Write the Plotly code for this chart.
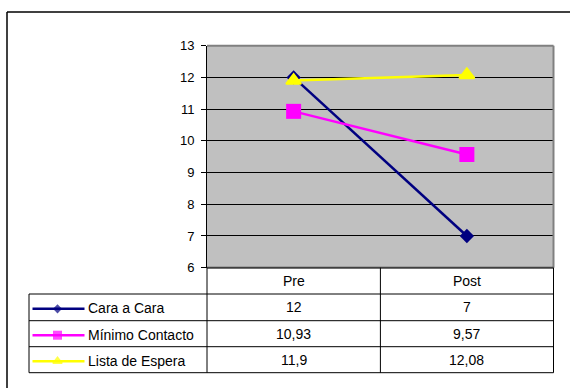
import plotly.graph_objects as go

# ---------------- data ----------------
categories = ["Pre", "Post"]
series_names = ["Cara a Cara", "Mínimo Contacto", "Lista de Espera"]
cara_a_cara = [12, 7]
minimo_contacto = [10.93, 9.57]
lista_de_espera = [11.9, 12.08]
y_ticks = [6, 7, 8, 9, 10, 11, 12, 13]

series_values = [cara_a_cara, minimo_contacto, lista_de_espera]

# ---------------- style ----------------
colors = ["#000080", "#FF00FF", "#FFFF00"]
symbols = ["diamond", "square", "triangle-up"]
marker_sizes = [11, 15, 13]
marker_lines = [0, 0, 2]
legend_marker_sizes = [7, 9, 8]
legend_marker_lines = [0, 0, 1.5]
FONT = "Arial, Liberation Sans, sans-serif"

W, H = 570, 388
PL, PR, PT, PB = 207, 553.5, 45.7, 267.7   # plot area in pixels
TL = 29                                      # table left edge
ROW_LINES = [294, 320.7, 346.7, 372.7]
COL_MID = 380.4


def px(x):
    return x / W


def py(y):
    return 1 - y / H


def fmt(v):
    return f"{v:g}".replace(".", ",")


fig = go.Figure()

for name, vals, c, s, ms, ml in zip(series_names, series_values, colors, symbols,
                                     marker_sizes, marker_lines):
    fig.add_trace(go.Scatter(
        x=categories, y=vals, name=name, mode="lines+markers",
        line=dict(color=c, width=2.5),
        marker=dict(symbol=s, size=ms, color=c, line=dict(width=ml, color=c)),
        xaxis="x", yaxis="y", showlegend=False, cliponaxis=False,
    ))

# legend keys inside the table (overlay pixel axes)
row_centers = [(ROW_LINES[i] + ROW_LINES[i + 1]) / 2 for i in range(3)]
for name, c, s, ms, ml, yc in zip(series_names, colors, symbols, legend_marker_sizes,
                                  legend_marker_lines, row_centers):
    fig.add_trace(go.Scatter(
        x=[32.5, 57.5, 84.5], y=[yc + 1.5] * 3, mode="lines+markers",
        line=dict(color=c, width=2.5),
        marker=dict(symbol=s, size=[0, ms, 0], color=c, line=dict(width=ml, color=c)),
        xaxis="x2", yaxis="y2", showlegend=False, hoverinfo="skip",
    ))

shapes = []


def line(x0, y0, x1, y1, color="#000000", width=1):
    shapes.append(dict(type="line", xref="paper", yref="paper",
                       x0=px(x0), y0=py(y0), x1=px(x1), y1=py(y1),
                       line=dict(color=color, width=width), layer="above"))


# gray plot background
shapes.append(dict(type="rect", xref="x domain", yref="y domain", x0=0, x1=1, y0=0, y1=1,
                   fillcolor="#C0C0C0", line=dict(width=0), layer="below"))
# plot border
line(PL, PT, PR, PT, "#808080", 2)
line(PR, PT, PR, PB, "#808080", 2)
line(PL, PB, PR, PB, "#404040", 2)

# table
for yl in ROW_LINES:
    line(TL, yl, PR, yl)
for xl in [PL, COL_MID, PR]:
    line(xl, PB, xl, ROW_LINES[-1])
line(TL, ROW_LINES[0], TL, ROW_LINES[-1])

# outer frame
line(7, 12, W, 12, "#000000", 1.5)
line(7, 12, 7, H, "#000000", 1.5)

annotations = []
col_centers = [(PL + COL_MID) / 2, (COL_MID + PR) / 2]
for cat, xc in zip(categories, col_centers):
    annotations.append(dict(text=cat, x=px(xc), y=py((PB + ROW_LINES[0]) / 2), xref="paper",
                            yref="paper", showarrow=False, xanchor="center", yanchor="middle",
                            font=dict(family=FONT, size=14, color="#000")))
for vals, yc, name in zip(series_values, row_centers, series_names):
    for v, xc in zip(vals, col_centers):
        annotations.append(dict(text=fmt(v), x=px(xc), y=py(yc), xref="paper", yref="paper",
                                showarrow=False, xanchor="center", yanchor="middle",
                                font=dict(family=FONT, size=14, color="#000")))
    annotations.append(dict(text=name, x=px(86), y=py(yc + 1), xref="paper", yref="paper",
                            showarrow=False, xanchor="left", yanchor="middle",
                            font=dict(family=FONT, size=14, color="#000")))

fig.update_layout(
    width=W, height=H, margin=dict(l=0, r=0, t=0, b=0, pad=0),
    paper_bgcolor="white", plot_bgcolor="rgba(0,0,0,0)",
    xaxis=dict(domain=[px(PL), px(PR)], type="category", categoryorder="array",
               categoryarray=categories, range=[-0.5, 1.5], showticklabels=False,
               showgrid=False, zeroline=False, ticks="", anchor="y", automargin=False),
    yaxis=dict(domain=[py(PB), py(PT)], range=[6, 13], tickvals=y_ticks,
               ticktext=[str(t) for t in y_ticks], showgrid=True, gridcolor="#000000",
               gridwidth=1, zeroline=False, showline=True, linecolor="#000000", linewidth=1,
               ticks="outside", ticklen=5, tickcolor="#000000", ticklabelstandoff=4,
               tickfont=dict(family=FONT, size=13, color="#000"), anchor="x", automargin=False),
    xaxis2=dict(domain=[0, 1], range=[0, W], visible=False, anchor="y2", automargin=False),
    yaxis2=dict(domain=[0, 1], range=[H, 0], visible=False, anchor="x2", automargin=False),
    shapes=shapes, annotations=annotations, showlegend=False,
)

fig.write_html("out.html", config={"responsive": False},
               post_script="document.body.style.margin='0';document.body.style.padding='0';")
